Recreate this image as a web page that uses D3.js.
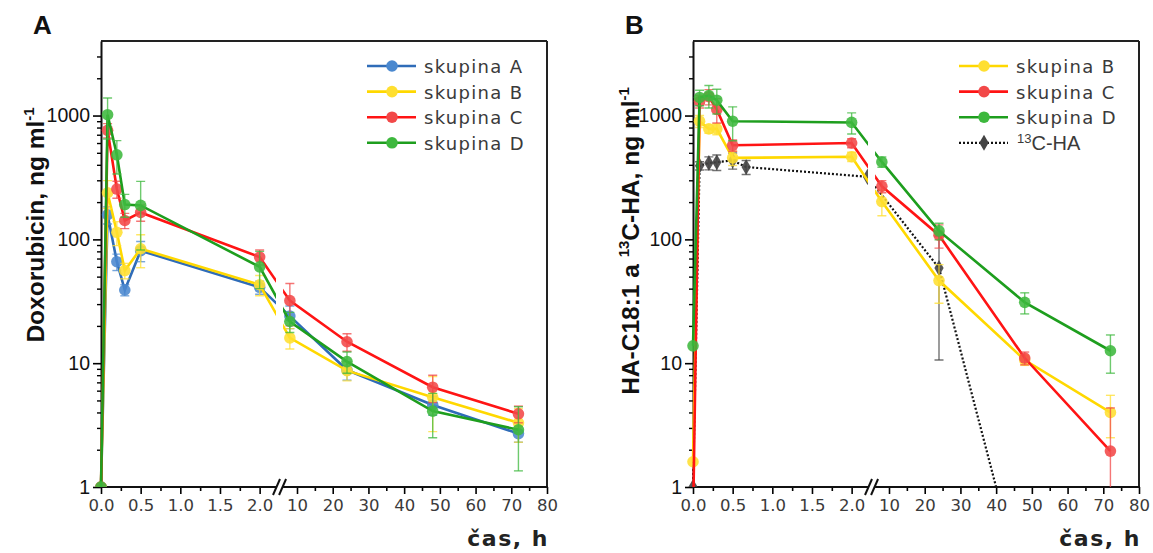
<!DOCTYPE html>
<html><head><meta charset="utf-8">
<script src="https://cdn.jsdelivr.net/npm/d3@7"></script>
<style>body{margin:0;background:#fff}</style>
</head><body>
<svg id="c" width="1153" height="553" xmlns="http://www.w3.org/2000/svg"></svg>
<script>
// ---------- data ----------
const timesA = [0, 0.083, 0.2, 0.3, 0.5, 2, 8, 24, 48, 72];
const doxA = [1, 158, 66, 39, 81, 41, 24, 8.8, 4.6, 2.7];
const doxB = [1, 238, 114, 56, 84, 43, 16, 8.7, 5.3, 3.3];
const doxC = [1, 760, 255, 142, 165, 72, 32, 14.9, 6.4, 3.9];
const doxD = [1, 1016, 482, 191, 188, 60, 21.7, 10.3, 4.1, 2.9];
const doxAerr = [0, 25, 10, 4, 15, 5, 5, 1.5, 0.8, 0.4];
const doxBerr = [0, 60, 25, 8, 25, 8, 3, 1.5, 2.5, 1];
const doxCerr = [0, 100, 40, 20, 25, 10, 12, 2.4, 1.6, 0.6];
const doxDerr = [0, 370, 145, 40, 106, 20, 4, 2, 1.6, 1.55];

const timesB = [0, 0.083, 0.2, 0.3, 0.5, 2, 8, 24, 48, 72];
const haB = [1.6, 900, 780, 780, 455, 465, 202, 46.5, 10.6, 4.0];
const haC = [0.5, 1300, 1420, 1120, 575, 600, 268, 108, 11, 1.95];
const haD = [13.8, 1400, 1450, 1330, 900, 880, 422, 117, 31, 12.6];
const haBerr = [0, 100, 60, 80, 60, 40, 47, 16, 1, 1.5];
const haCerr = [0, 150, 200, 250, 60, 50, 30, 23, 1.3, 2.4];
const haDerr = [0, 200, 300, 300, 275, 170, 40, 18, 6, 4.3];
const times13C = [0, 0.083, 0.2, 0.3, 0.5, 0.67, 2.2, 24, 48];
const ha13C = [1, 393, 414, 420, 434, 384, 320, 58.6, 0.13];
const ha13Cerr = [0, 30, 50, 60, 65, 50, 0, 48, 0];

const namesA = ["skupina A", "skupina B", "skupina C", "skupina D"];
const namesB = ["skupina B", "skupina C", "skupina D"];
const yMajor = [1, 10, 100, 1000];
const xLeftTicks = [0, 0.5, 1.0, 1.5, 2.0];
const xRightTicks = [10, 20, 30, 40, 50, 60, 70, 80];

// ---------- styles ----------
const colors = {
  "skupina A": {line: "#2f6cb8", mark: "#4a88cf"},
  "skupina B": {line: "#ffd800", mark: "#ffdf30"},
  "skupina C": {line: "#ff1414", mark: "#f24848"},
  "skupina D": {line: "#1e9e1e", mark: "#3db83d"},
  "13C": {line: "#111", mark: "#444"}
};

const svg = d3.select("#c");
const PW = 446, PH = 446;
const xLeft = d3.scaleLinear().domain([0, 2.2]).range([0, 174.5]);
const xRight = d3.scaleLinear().domain([10, 80]).range([196, 446]);
const X = t => t <= 2.25 ? xLeft(t) : xRight(t);
const y = d3.scaleLog().domain([1, 4000]).range([PH, 0]);

function panel(id, left, top, series, legendNames, ytitle, ytitleY, ytitleX, label) {
  const g = svg.append("g").attr("transform", `translate(${left},${top})`);
  const cp = svg.append("defs").append("clipPath").attr("id", "clip" + id);
  cp.append("rect").attr("x", -10).attr("y", -10).attr("width", 10 + xLeft(2.2) + 0.5).attr("height", PH + 10);
  cp.append("rect").attr("x", xRight(6.1)).attr("y", -10).attr("width", PW - xRight(6.1)).attr("height", PH + 10);

  // frame
  g.append("line").attr("x1", 0).attr("x2", PW).attr("y1", 0).attr("y2", 0).attr("stroke", "#222").attr("stroke-width", 2);
  g.append("line").attr("x1", PW).attr("x2", PW).attr("y1", 0).attr("y2", PH).attr("stroke", "#222").attr("stroke-width", 2);

  // y axis
  const minor = [];
  [1, 10, 100, 1000].forEach(d => { for (let k = 2; k <= 9; k++) if (d * k < 4000) minor.push(d * k); });
  const ya = g.append("g").call(d3.axisLeft(y).tickValues(yMajor).tickSize(8).tickSizeOuter(0).tickFormat(d3.format("d")));
  ya.select(".domain").attr("stroke-width", 2).attr("stroke", "#111");
  ya.selectAll(".tick line").attr("stroke-width", 1.6);
  ya.selectAll("text").attr("font-family", "Liberation Sans, Arial").attr("font-size", 19.5).attr("fill", "#111").attr("x", -11);
  const ym = g.append("g").call(d3.axisLeft(y).tickValues(minor).tickSize(4).tickSizeOuter(0).tickFormat(""));
  ym.select(".domain").remove();
  ym.selectAll(".tick line").attr("stroke-width", 1.4);

  // x axis (broken)
  const xa1 = g.append("g").attr("transform", `translate(0,${PH})`)
    .call(d3.axisBottom(xLeft).tickValues(xLeftTicks).tickSize(7).tickSizeOuter(0).tickFormat(d3.format(".1f")));
  const xa1m = g.append("g").attr("transform", `translate(0,${PH})`)
    .call(d3.axisBottom(xLeft).tickValues([0.25, 0.75, 1.25, 1.75]).tickSize(4).tickSizeOuter(0).tickFormat(""));
  const xa2 = g.append("g").attr("transform", `translate(0,${PH})`)
    .call(d3.axisBottom(xRight).tickValues(xRightTicks).tickSize(7).tickSizeOuter(0).tickFormat(d3.format("d")));
  const xa2m = g.append("g").attr("transform", `translate(0,${PH})`)
    .call(d3.axisBottom(xRight).tickValues([15, 25, 35, 45, 55, 65, 75]).tickSize(4).tickSizeOuter(0).tickFormat(""));
  [xa1, xa1m, xa2, xa2m].forEach(a => { a.select(".domain").remove(); a.selectAll(".tick line").attr("stroke-width", 1.6); });
  [xa1, xa2].forEach(a => a.selectAll("text").attr("font-family", "DejaVu Sans").attr("font-size", 16.5).attr("fill", "#3a3a3a").attr("y", 12));
  g.append("line").attr("x1", -1).attr("x2", xLeft(2.2) + 0.5).attr("y1", PH).attr("y2", PH).attr("stroke", "#111").attr("stroke-width", 2);
  g.append("line").attr("x1", xRight(6.1)).attr("x2", PW + 1).attr("y1", PH).attr("y2", PH).attr("stroke", "#111").attr("stroke-width", 2);
  [xLeft(2.2) + 1, xRight(6.1) - 0.5].forEach(bx => {
    g.append("line").attr("x1", bx - 3.5).attr("x2", bx + 3.5).attr("y1", PH + 8).attr("y2", PH - 8).attr("stroke", "#111").attr("stroke-width", 2);
  });

  // data
  const dg = g.append("g").attr("clip-path", `url(#clip${id})`);
  const line = d3.line().x(d => X(d.t)).y(d => y(Math.max(d.v, 0.05)));
  series.forEach(s => {
    const pts = s.times.map((t, i) => ({t, v: s.values[i], e: s.err[i]}));
    const c = colors[s.key];
    const sg = dg.append("g");
    sg.append("path").datum(pts).attr("d", line).attr("fill", "none").attr("stroke", c.line)
      .attr("stroke-width", s.key === "13C" ? 2.2 : 2.6).attr("stroke-dasharray", s.key === "13C" ? "2,2" : null);
    pts.filter(p => p.e > 0).forEach(p => {
      const x0 = X(p.t), y1 = y(p.v + p.e), y2 = y(Math.max(p.v - p.e, 0.3));
      const eg = sg.append("g").attr("stroke", c.mark).attr("stroke-opacity", 0.75).attr("stroke-width", 1.4);
      eg.append("line").attr("x1", x0).attr("x2", x0).attr("y1", y1).attr("y2", y2);
      eg.append("line").attr("x1", x0 - 4.5).attr("x2", x0 + 4.5).attr("y1", y1).attr("y2", y1);
      eg.append("line").attr("x1", x0 - 4.5).attr("x2", x0 + 4.5).attr("y1", y2).attr("y2", y2);
    });
    if (s.key === "13C") {
      sg.selectAll("path.m").data(pts).enter().append("path").attr("class", "m")
        .attr("d", d3.symbol(d3.symbolDiamond, 75)())
        .attr("transform", d => `translate(${X(d.t)},${y(Math.max(d.v, 0.05))})`)
        .attr("fill", c.mark).attr("fill-opacity", 0.9);
    } else {
      sg.selectAll("circle").data(pts).enter().append("circle")
        .attr("cx", d => X(d.t)).attr("cy", d => y(d.v)).attr("r", 5.8)
        .attr("fill", c.mark).attr("fill-opacity", 0.88);
    }
  });

  // legend
  const lg = g.append("g").attr("transform", `translate(${266},${25})`);
  legendNames.forEach((n, i) => {
    const c = colors[n.key];
    const r = lg.append("g").attr("transform", `translate(0,${i * 25.6})`);
    r.append("line").attr("x1", 0).attr("x2", 49).attr("y1", 0).attr("y2", 0).attr("stroke", c.line)
      .attr("stroke-width", n.key === "13C" ? 2.2 : 2.6).attr("stroke-dasharray", n.key === "13C" ? "2,2" : null);
    if (n.key === "13C") {
      r.append("path").attr("d", d3.symbol(d3.symbolDiamond, 75)()).attr("transform", "translate(25,0)").attr("fill", c.mark);
      const t = r.append("text").attr("x", 58).attr("y", 7).attr("font-family", "Liberation Sans, Arial").attr("font-size", 20).attr("fill", "#3a3a3a");
      t.append("tspan").attr("font-size", 13).attr("dy", -7).text("13");
      t.append("tspan").attr("dy", 7).text("C-HA");
    } else {
      r.append("circle").attr("cx", 25).attr("cy", 0).attr("r", 5.8).attr("fill", c.mark);
      r.append("text").attr("x", 57).attr("y", 7).attr("font-family", "DejaVu Sans").attr("font-size", 18)
        .attr("letter-spacing", 1.3).attr("fill", "#3a3a3a").text(n.label);
    }
  });

  // titles
  g.append("text").attr("x", PW + 2).attr("y", PH + 59).attr("text-anchor", "end").attr("font-family", "DejaVu Sans")
    .attr("font-weight", "bold").attr("font-size", 22).attr("letter-spacing", 1.5).attr("fill", "#222").text("čas, h");
  const yt = g.append("text").attr("transform", `translate(${ytitleX},${ytitleY}) rotate(-90)`).attr("text-anchor", "middle")
    .attr("font-family", "Liberation Sans, Arial").attr("font-weight", "bold").attr("font-size", 24.5).attr("fill", "#111");
  ytitle(yt);
  g.append("text").attr("x", -68).attr("y", -7).attr("font-family", "Liberation Sans, Arial").attr("font-weight", "bold")
    .attr("font-size", 26).attr("fill", "#111").text(label);
}

panel("A", 101, 41,
  [{key: "skupina A", times: timesA, values: doxA, err: doxAerr},
   {key: "skupina B", times: timesA, values: doxB, err: doxBerr},
   {key: "skupina C", times: timesA, values: doxC, err: doxCerr},
   {key: "skupina D", times: timesA, values: doxD, err: doxDerr}],
  namesA.map(n => ({key: n, label: n})),
  t => { t.append("tspan").text("Doxorubicin, ng ml"); t.append("tspan").attr("font-size", 15).attr("dy", -10).text("-1"); },
  184, -57, "A");

panel("B", 693, 41,
  [{key: "13C", times: times13C, values: ha13C, err: ha13Cerr},
   {key: "skupina B", times: timesB, values: haB, err: haBerr},
   {key: "skupina C", times: timesB, values: haC, err: haCerr},
   {key: "skupina D", times: timesB, values: haD, err: haDerr}],
  namesB.map(n => ({key: n, label: n})).concat([{key: "13C", label: "13C-HA"}]),
  t => { t.append("tspan").text("HA-C18:1 a "); t.append("tspan").attr("font-size", 15).attr("dy", -10).text("13");
         t.append("tspan").attr("dy", 10).text("C-HA, ng ml"); t.append("tspan").attr("font-size", 15).attr("dy", -10).text("-1"); },
  200, -54, "B");
</script>
</body></html>
